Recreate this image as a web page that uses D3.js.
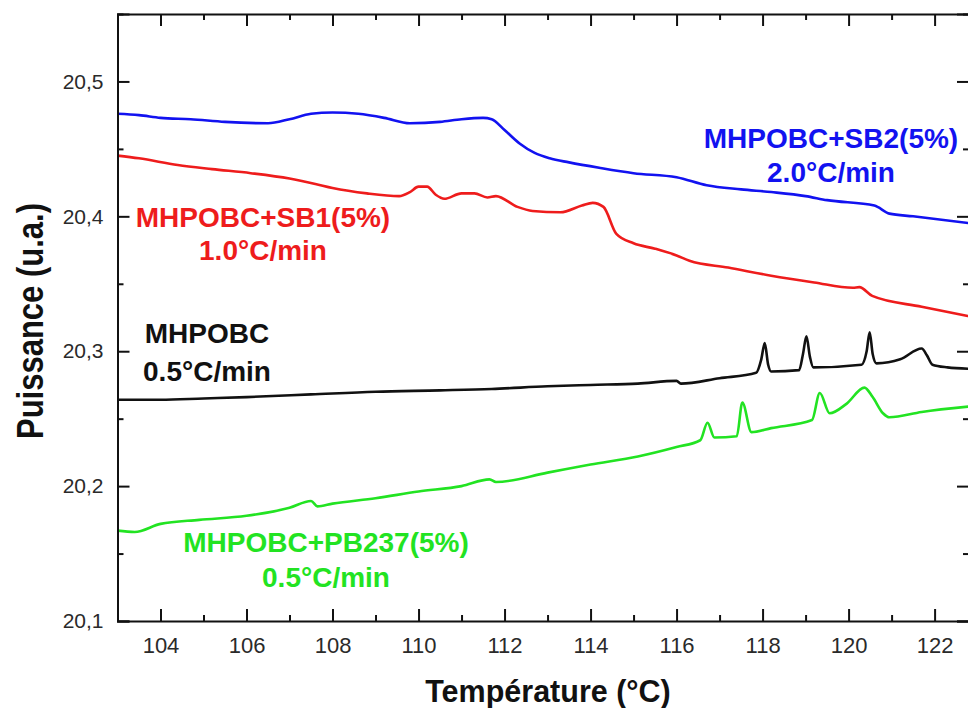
<!DOCTYPE html>
<html>
<head>
<meta charset="utf-8">
<script src="https://cdn.jsdelivr.net/npm/d3@7"></script>
<style>
  body { margin: 0; background: #fff; }
  svg { display: block; font-family: "Liberation Sans", Arial, sans-serif; }
  .axis path, .axis line { stroke: #111; stroke-width: 2; }
  .axis text { fill: #2a2a2a; }
</style>
</head>
<body>
<div id="graph"></div>
<script>
// T (°C), puissance (u.a.)
var sb2T = [103.0, 103.5, 104.0, 104.7, 105.5, 106.5, 107.0, 107.5, 108.0, 108.6, 109.2, 109.8, 110.5, 111.0, 111.5, 111.7, 112.0, 112.35, 112.7, 113.05, 113.5, 114.2, 115.0, 116.0, 116.7, 117.5, 118.2, 119.0, 119.5, 120.6, 120.95, 121.5, 122.8]
var sb2P = [20.476, 20.475, 20.473, 20.472, 20.470, 20.469, 20.472, 20.476, 20.477, 20.476, 20.473, 20.469, 20.470, 20.472, 20.473, 20.472, 20.464, 20.454, 20.447, 20.443, 20.440, 20.436, 20.432, 20.429, 20.423, 20.420, 20.418, 20.415, 20.412, 20.408, 20.402, 20.400, 20.395]

var sb1T = [103.0, 103.5, 104.4, 105.2, 106.1, 107.0, 107.6, 108.0, 108.8, 109.55, 109.8, 110.0, 110.2, 110.4, 110.6, 111.0, 111.3, 111.6, 111.8, 112.3, 112.65, 113.3, 113.8, 114.05, 114.3, 114.6, 115.0, 115.5, 116.0, 116.3, 117.2, 118.2, 119.2, 120.1, 120.25, 120.55, 121.7, 122.8]
var sb1P = [20.445, 20.443, 20.438, 20.435, 20.432, 20.428, 20.424, 20.421, 20.417, 20.415, 20.418, 20.422, 20.422, 20.416, 20.413, 20.417, 20.417, 20.414, 20.415, 20.407, 20.404, 20.403, 20.408, 20.410, 20.407, 20.387, 20.380, 20.376, 20.371, 20.367, 20.362, 20.356, 20.351, 20.347, 20.3475, 20.341, 20.333, 20.326]

var pureT = [103.0, 104.0, 105.0, 106.0, 107.5, 109.0, 110.5, 111.7, 113.0, 114.0, 115.1, 116.0, 116.1, 117.0, 117.85, 117.97, 118.05, 118.13, 118.2, 118.85, 118.94, 119.02, 119.1, 119.18, 120.3, 120.42, 120.49, 120.56, 120.65, 121.2, 121.7, 121.82, 121.95, 122.3, 122.8]
var pureP = [20.264, 20.264, 20.265, 20.266, 20.268, 20.270, 20.271, 20.272, 20.274, 20.275, 20.276, 20.278, 20.276, 20.280, 20.284, 20.294, 20.306, 20.290, 20.285, 20.286, 20.298, 20.311, 20.296, 20.288, 20.290, 20.300, 20.314, 20.298, 20.291, 20.294, 20.302, 20.297, 20.290, 20.288, 20.287]

var pbT = [103.0, 103.4, 104.0, 104.9, 106.0, 107.0, 107.5, 107.65, 108.0, 109.0, 110.0, 111.0, 111.65, 111.8, 113.0, 114.0, 115.1, 116.0, 116.55, 116.72, 116.88, 117.4, 117.53, 117.74, 118.2, 119.15, 119.33, 119.56, 119.95, 120.37, 120.56, 120.8, 120.95, 121.7, 122.8]
var pbP = [20.167, 20.166, 20.172, 20.175, 20.178, 20.184, 20.189, 20.185, 20.187, 20.191, 20.196, 20.200, 20.205, 20.203, 20.210, 20.216, 20.222, 20.229, 20.234, 20.247, 20.236, 20.237, 20.262, 20.240, 20.243, 20.249, 20.269, 20.254, 20.261, 20.273, 20.266, 20.254, 20.251, 20.255, 20.259]

var xTicks = [104, 106, 108, 110, 112, 114, 116, 118, 120, 122]
var xMinor = [103, 105, 107, 109, 111, 113, 115, 117, 119, 121]
var yTicks = [20.1, 20.2, 20.3, 20.4, 20.5]
var yMinor = [20.15, 20.25, 20.35, 20.45, 20.55]

var series = [
  {T: sb2T, P: sb2P, color: '#1212f0', label: ['MHPOBC+SB2(5%)', '2.0°C/min'], at: [831, 148], gap: 34},
  {T: sb1T, P: sb1P, color: '#ee1c1c', label: ['MHPOBC+SB1(5%)', '1.0°C/min'], at: [263, 227], gap: 33},
  {T: pureT, P: pureP, color: '#111111', label: ['MHPOBC', '0.5°C/min'], at: [207, 343], gap: 38},
  {T: pbT, P: pbP, color: '#22e322', label: ['MHPOBC+PB237(5%)', '0.5°C/min'], at: [326, 552], gap: 35}
]

var W = 968, H = 708
var m = {left: 117.5, top: 14, right: 969, bottom: 621}

var svg = d3.select('#graph').append('svg').attr('width', W).attr('height', H)

var x = d3.scaleLinear().domain([103, 122.8]).range([m.left, m.right])
var y = d3.scaleLinear().domain([20.1, 20.55]).range([m.bottom, m.top])

var fr = d3.formatLocale({decimal: ',', thousands: ' ', grouping: [3], currency: ['', '']})
var fy = fr.format('.1f')

svg.append('defs').append('clipPath').attr('id', 'plot')
  .append('rect').attr('x', m.left).attr('y', m.top)
  .attr('width', m.right - m.left).attr('height', m.bottom - m.top)

// curves
var line = d3.line().curve(d3.curveMonotoneX).x(d => x(d[0])).y(d => y(d[1]))
svg.append('g').attr('clip-path', 'url(#plot)')
  .selectAll('path').data(series).join('path')
  .attr('d', s => line(s.T.map((t, i) => [t, s.P[i]])))
  .attr('fill', 'none')
  .attr('stroke', s => s.color)
  .attr('stroke-width', 2.6)
  .attr('stroke-linejoin', 'round')

// axes, ticks pointing inward
function ax(gen, tx, ty, vals, size, fmt, pad, fs) {
  var g = svg.append('g').attr('class', 'axis')
    .attr('transform', `translate(${tx},${ty})`)
    .call(gen.tickValues(vals).tickSize(-size).tickPadding(pad || 3).tickFormat(fmt || ''))
  g.selectAll('text').style('font-size', fs || '20px')
  return g
}
ax(d3.axisBottom(x), 0, m.bottom, xTicks, 12, d3.format('d'), 16, '22px')
ax(d3.axisBottom(x), 0, m.bottom, xMinor, 6).select('.domain').remove()
ax(d3.axisTop(x), 0, m.top, xTicks, 12)
ax(d3.axisTop(x), 0, m.top, xMinor, 6).select('.domain').remove()
ax(d3.axisLeft(y), m.left, 0, yTicks, 12, fy, 14, '21px')
ax(d3.axisLeft(y), m.left, 0, yMinor, 6).select('.domain').remove()
ax(d3.axisRight(y), m.right, 0, yTicks, 12)
ax(d3.axisRight(y), m.right, 0, yMinor, 6).select('.domain').remove()
svg.selectAll('.axis .domain').attr('stroke-width', 2.5)

// axis titles
svg.append('text')
  .attr('x', 548).attr('y', 702)
  .attr('text-anchor', 'middle')
  .style('font-size', '30.5px').style('font-weight', 'bold').attr('fill', '#111')
  .text('Température (°C)')

svg.append('text')
  .attr('transform', 'translate(43,321) rotate(-90) scale(1,1.2)')
  .attr('text-anchor', 'middle')
  .style('font-size', '31px').style('font-weight', 'bold').attr('fill', '#111')
  .text('Puissance (u.a.)')

// curve labels
var lab = svg.append('g').selectAll('text').data(series).join('text')
  .attr('x', s => s.at[0]).attr('y', s => s.at[1])
  .attr('text-anchor', 'middle')
  .attr('fill', s => s.color)
  .style('font-size', '28px').style('font-weight', 'bold')
lab.selectAll('tspan').data(s => s.label.map((t, i) => ({t, i, s}))).join('tspan')
  .attr('x', d => d.s.at[0])
  .attr('dy', d => d.i ? d.s.gap : 0)
  .text(d => d.t)
</script>
</body>
</html>
